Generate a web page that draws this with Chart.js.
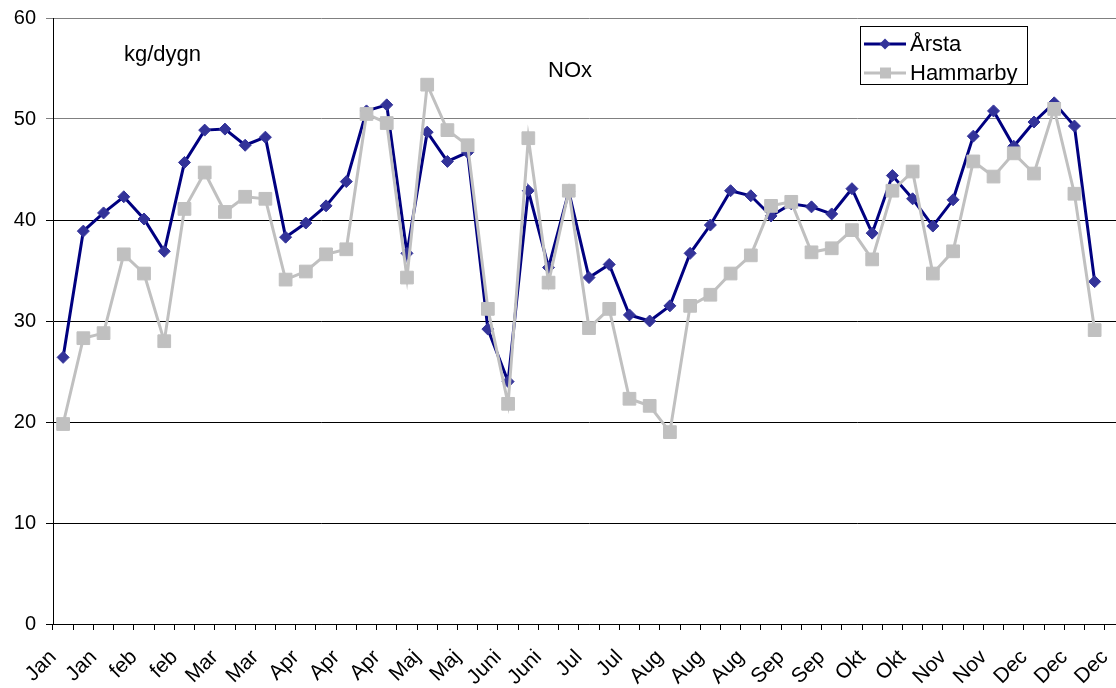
<!DOCTYPE html>
<html>
<head>
<meta charset="utf-8">
<script src="https://cdn.jsdelivr.net/npm/chart.js@4"></script>
<style>
  html, body { margin: 0; padding: 0; background: #fff; overflow: hidden; }
  #wrap { width: 1136px; height: 688px; }
</style>
</head>
<body>
<div id="wrap"><canvas id="c" width="1136" height="688"></canvas></div>
<script>
// Month tick labels, shown on every second week
const monthTicks = ['Jan','Jan','feb','feb','Mar','Mar','Apr','Apr','Apr','Maj','Maj','Juni','Juni',
  'Jul','Jul','Aug','Aug','Aug','Sep','Sep','Okt','Okt','Nov','Nov','Dec','Dec','Dec'];

// Weekly NOx load, kg/dygn
const arsta = [26.4,38.9,40.7,42.3,40.1,36.9,45.7,48.9,49.0,47.4,48.2,38.3,39.7,41.4,43.8,50.8,51.4,
  36.7,48.7,45.8,46.7,29.2,24.0,42.9,35.3,42.8,34.3,35.6,30.6,30.0,31.5,36.7,39.5,42.9,42.4,40.4,
  41.6,41.3,40.6,43.1,38.7,44.4,42.1,39.4,42.0,48.3,50.8,47.3,49.7,51.6,49.3,33.9];
const hammarby = [19.8,28.3,28.8,36.6,34.7,28.0,41.1,44.7,40.8,42.3,42.1,34.1,34.9,36.6,37.1,50.5,49.6,
  34.3,53.4,48.9,47.4,31.2,21.8,48.1,33.8,42.9,29.3,31.2,22.3,21.6,19.0,31.5,32.6,34.7,36.5,41.4,
  41.8,36.8,37.2,39.0,36.1,42.9,44.8,34.7,36.9,45.8,44.3,46.6,44.6,51.0,42.6,29.1];

const yTicks = { min: 0, max: 60, step: 10 };

// one category per week; month name on every second one
const weeks = Array.from({ length: monthTicks.length * 2 - 1 }, (_, i) => i % 2 ? '' : monthTicks[i / 2]);

const FONT = '"Liberation Sans", Arial, sans-serif';

// Titles and the framed legend drawn on top of the chart
const overlay = {
  id: 'overlay',
  afterDraw(chart) {
    const ctx = chart.ctx;
    ctx.save();
    ctx.fillStyle = '#000';
    ctx.textBaseline = 'alphabetic';
    ctx.textAlign = 'left';
    ctx.font = '22px ' + FONT;
    ctx.fillText('kg/dygn', 124, 61);
    ctx.fillText('NOx', 548, 77);

    // legend frame
    ctx.fillStyle = '#fff';
    ctx.fillRect(860.5, 26.5, 167, 58);
    ctx.strokeStyle = '#000';
    ctx.lineWidth = 1;
    ctx.strokeRect(860.5, 26.5, 167, 58);

    const rows = [44, 73];
    chart.data.datasets.forEach((ds, i) => {
      const y = rows[i];
      ctx.strokeStyle = ds.borderColor;
      ctx.lineWidth = 3;
      ctx.beginPath();
      ctx.moveTo(864, y);
      ctx.lineTo(906, y);
      ctx.stroke();
      ctx.fillStyle = ds.pointBackgroundColor;
      ctx.beginPath();
      if (ds.pointStyle === 'rectRot') {
        ctx.moveTo(885, y - 5.5); ctx.lineTo(890.5, y); ctx.lineTo(885, y + 5.5); ctx.lineTo(879.5, y);
        ctx.closePath();
      } else {
        ctx.rect(880, y - 5.5, 11, 11);
      }
      ctx.fill();
      ctx.fillStyle = '#000';
      ctx.font = '22px ' + FONT;
      ctx.textBaseline = 'middle';
      ctx.fillText(ds.label, 910, y + 1);
    });
    ctx.restore();
  }
};

new Chart(document.getElementById('c'), {
  type: 'line',
  data: {
    labels: weeks,
    datasets: [
      {
        label: 'Årsta',
        data: arsta,
        borderColor: '#000080',
        borderWidth: 3,
        pointStyle: 'rectRot',
        pointRadius: 6,
        pointBackgroundColor: '#333399',
        pointBorderColor: '#333399',
        pointBorderWidth: 1,
        tension: 0,
        order: 1
      },
      {
        label: 'Hammarby',
        data: hammarby,
        borderColor: '#C0C0C0',
        borderWidth: 3,
        pointStyle: 'rect',
        pointRadius: 9,
        pointBackgroundColor: '#C0C0C0',
        pointBorderColor: '#C0C0C0',
        pointBorderWidth: 1,
        tension: 0,
        order: 0
      }
    ]
  },
  options: {
    responsive: false,
    animation: false,
    events: [],
    layout: { padding: { top: 18, right: 11, left: 0, bottom: 0 } },
    plugins: { legend: { display: false }, tooltip: { enabled: false } },
    scales: {
      x: {
        type: 'category',
        offset: true,
        grid: { offset: true, drawOnChartArea: false, drawTicks: true, tickLength: 6, color: '#000' },
        border: { display: true, color: '#000', width: 1 },
        ticks: {
          autoSkip: false, minRotation: 45, maxRotation: 45, padding: 15, labelOffset: -10,
          color: '#000', font: { family: FONT, size: 21 }
        },
        afterFit(s) { s.height = 64; s.paddingLeft = 0; s.paddingRight = 0; }
      },
      y: {
        min: yTicks.min, max: yTicks.max,
        ticks: { stepSize: yTicks.step, padding: 10, color: '#000', font: { family: FONT, size: 20 } },
        grid: {
          color: c => (c.tick && c.tick.value >= 50 ? '#808080' : '#000'),
          lineWidth: 1, tickLength: 7
        },
        border: { display: true, color: '#000', width: 1 },
        afterFit(s) { s.width = 53; s.paddingTop = 0; s.paddingBottom = 0; }
      }
    }
  },
  plugins: [overlay]
});
</script>
</body>
</html>
